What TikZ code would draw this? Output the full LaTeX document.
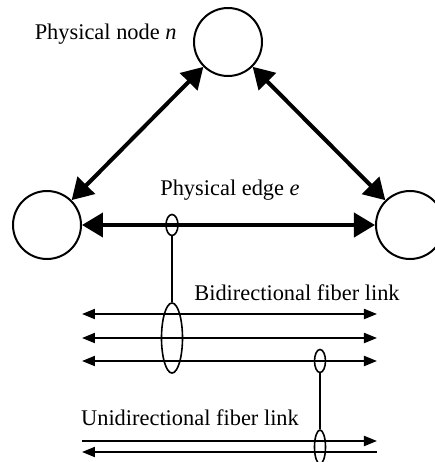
\documentclass[tikz,border=0pt]{standalone}
\usepackage{fontspec}
\setmainfont{Liberation Serif}
\usetikzlibrary{arrows.meta,shapes.geometric}

\begin{document}
\begin{tikzpicture}[x=0.5pt,y=0.5pt,yscale=-1,xscale=1,
  pnode/.style={circle,draw,line width=1pt,minimum size=34pt,inner sep=0pt},
  etip/.tip={Triangle[length=10.5pt,width=12pt]},
  ftip/.tip={Triangle[length=6.5pt,width=5pt]},
  pedge/.style={line width=2pt,{etip}-{etip}},
  fiber/.style={line width=1pt},
  bundle/.style={ellipse,draw,line width=0.8pt,inner sep=0pt},
  lbl/.style={font=\fontsize{11.2}{13}\selectfont,inner sep=0pt}]
\useasboundingbox (0,0) rectangle (435,462);

% physical nodes
\node [pnode] (top) at (228,42) {};
\node [pnode] (left) at (47,225) {};
\node [pnode] (right) at (410,225) {};

% physical edges
\draw [pedge] (top) -- (left);
\draw [pedge] (top) -- (right);
\draw [pedge] (left) -- (right);

% Text Node
\node [lbl,anchor=east] (nodelbl) at (177,34) {Physical node \textit{n}};
% Text Node
\node [lbl] (edgelbl) at (230,190) {Physical edge \textit{e}};

% fiber end points
\coordinate (b1w) at (82,314); \coordinate (b1e) at (377,314);
\coordinate (b2w) at (82,338); \coordinate (b2e) at (377,338);
\coordinate (b3w) at (82,361); \coordinate (b3e) at (377,361);
\coordinate (u1w) at (82,441); \coordinate (u1e) at (377,441);
\coordinate (u2w) at (82,452); \coordinate (u2e) at (377,452);

% bidirectional fibers
\draw [fiber,{ftip}-{ftip}] (b1w) -- (b1e);
\draw [fiber,{ftip}-{ftip}] (b2w) -- (b2e);
\draw [fiber,{ftip}-{ftip}] (b3w) -- (b3e);
% unidirectional fibers
\draw [fiber,-{ftip}] (u1w) -- (u1e);
\draw [fiber,{ftip}-] (u2w) -- (u2e);

% Text Node
\node [lbl] (bilbl) at (297,293) {Bidirectional fiber link};
% Text Node
\node [lbl] (unilbl) at (190,418) {Unidirectional fiber link};

% grouping ellipses
\node [bundle,minimum width=6pt,minimum height=10.5pt] (edgesel) at (172,225) {};
\node [bundle,minimum width=10.5pt,minimum height=35pt] (bisel) at (172,338) {};
\node [bundle,minimum width=5.5pt,minimum height=11.5pt] (fibsel) at (320,361) {};
\node [bundle,minimum width=5.5pt,minimum height=17pt] (unisel) at (320,447) {};

\draw [line width=0.6pt] (edgesel.south) -- (bisel.north);
\draw [line width=0.6pt] (fibsel.south) -- (unisel.north);

\end{tikzpicture}
\end{document}
